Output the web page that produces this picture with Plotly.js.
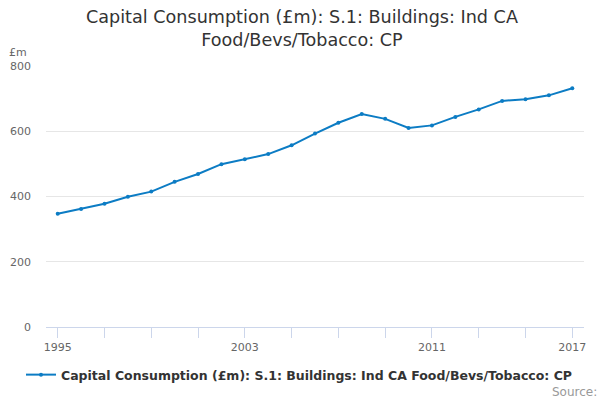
<!DOCTYPE html>
<html>
<head>
<meta charset="utf-8">
<script src="https://cdn.plot.ly/plotly-3.0.1.min.js"></script>
<style>
  html, body { margin: 0; padding: 0; background: #fff; }
  #chart { width: 600px; height: 400px; }
</style>
</head>
<body>
<div id="chart"></div>
<script>
// Years and values
const years = [1995, 1996, 1997, 1998, 1999, 2000, 2001, 2002, 2003, 2004, 2005, 2006,
               2007, 2008, 2009, 2010, 2011, 2012, 2013, 2014, 2015, 2016, 2017];
const values = [347, 362, 378, 399, 415, 445, 469, 499, 514, 530, 557, 593,
                626, 653, 638, 610, 618, 644, 667, 693, 698, 710, 732];
const tickYears = [1995, 1997, 1999, 2001, 2003, 2005, 2007, 2009, 2011, 2013, 2015, 2017];
const tickLabels = ['1995', '', '', '', '2003', '', '', '', '2011', '', '', '2017'];
const seriesName = 'Capital Consumption (£m): S.1: Buildings: Ind CA Food/Bevs/Tobacco: CP';
const chartTitle = 'Capital Consumption (£m): S.1: Buildings: Ind CA<br>Food/Bevs/Tobacco: CP';

const trace = {
    x: years,
    y: values,
    type: 'scatter',
    mode: 'lines+markers',
    name: seriesName,
    line: { color: '#0c7cc4', width: 2 },
    marker: { color: '#0c7cc4', size: 4 }
};

const layout = {
    width: 600,
    height: 400,
    paper_bgcolor: '#fff',
    plot_bgcolor: '#fff',
    font: { family: 'DejaVu Sans, sans-serif', color: '#666' },
    margin: { t: 66, b: 73, l: 46, r: 16, autoexpand: false },
    showlegend: true,
    legend: {
        orientation: 'h',
        xref: 'container',
        yref: 'container',
        x: 0.035,
        xanchor: 'left',
        y: 0.0625,
        yanchor: 'middle',
        font: { size: 12.5, color: '#333', family: 'DejaVu Sans', weight: 'bold' }
    },
    xaxis: {
        range: [1994.5, 2017.5],
        tickmode: 'array',
        tickvals: tickYears,
        ticktext: tickLabels,
        ticks: 'outside',
        ticklen: 10,
        tickcolor: '#ccd6eb',
        showline: true,
        linecolor: '#ccd6eb',
        linewidth: 1,
        showgrid: false,
        zeroline: false,
        tickfont: { size: 11, color: '#666' }
    },
    yaxis: {
        range: [0, 800],
        tickvals: [0, 200, 400, 600, 800],
        showgrid: true,
        gridcolor: '#e6e6e6',
        zeroline: false,
        showline: false,
        ticks: '',
        ticklabelstandoff: 14,
        tickfont: { size: 11, color: '#666' }
    },
    annotations: [
        {
            // chart title, placed as an annotation so both lines stay in view
            text: chartTitle, xref: 'paper', yref: 'paper', x: 0.4758, y: 1.142,
            xanchor: 'center', yanchor: 'middle', showarrow: false,
            font: { size: 17.6, color: '#333', family: 'DejaVu Sans' }
        },
        {
            text: '£m', xref: 'paper', yref: 'paper', x: -0.032, y: 1.052,
            xanchor: 'right', yanchor: 'middle', showarrow: false,
            font: { size: 11, color: '#666' }
        },
        {
            text: 'Source:', xref: 'paper', yref: 'paper', x: 1.028, y: -0.215,
            xanchor: 'right', yanchor: 'top', showarrow: false,
            font: { size: 12, color: '#999' }
        }
    ]
};

Plotly.newPlot('chart', [trace], layout, { displayModeBar: false, staticPlot: true });
</script>
</body>
</html>
